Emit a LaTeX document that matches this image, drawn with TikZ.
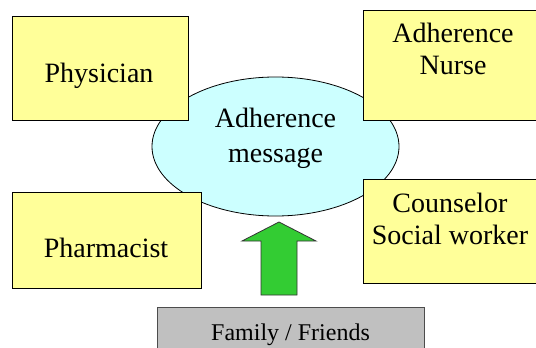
\documentclass[tikz,border=0pt]{standalone}
\usepackage{fontspec}
\setmainfont{Liberation Serif}
\newfontfamily\tnrfont{Liberation Serif}
\usetikzlibrary{shapes.geometric}
\definecolor{boxyellow}{HTML}{FFFF99}
\definecolor{msgcyan}{HTML}{CCFFFF}
\definecolor{famgray}{HTML}{C0C0C0}
\definecolor{arrowgreen}{HTML}{33CC33}
\begin{document}
\begin{tikzpicture}[x=1pt,y=-1pt,
  box/.style={draw=black, line width=0.8pt, fill=boxyellow, inner sep=0pt, anchor=north west},
  msgstyle/.style={ellipse, draw=black, line width=0.8pt, fill=msgcyan, inner sep=0pt},
  famstyle/.style={draw=black!70, line width=0.8pt, fill=famgray, inner sep=0pt, anchor=north west},
  lbl/.style={font=\tnrfont\fontsize{28}{32}\selectfont, align=center, inner sep=0pt, anchor=base},
  famlbl/.style={font=\tnrfont\fontsize{24}{28}\selectfont, inner sep=0pt, anchor=base},
  bigarrow/.style={draw=black!80, line width=0.8pt, fill=arrowgreen, line join=miter}
]
\useasboundingbox (0,0) rectangle (536,348);
\clip (0,0) rectangle (536,348);
% central ellipse
\node[msgstyle, minimum width=247pt, minimum height=139pt] (msg) at (275.5,146.5) {};
% boxes
\node[box, minimum width=176pt, minimum height=104pt] (phys) at (12,16) {};
\node[box, minimum width=180pt, minimum height=110pt] (nurse) at (363,10) {};
\node[box, minimum width=189pt, minimum height=96pt] (pharm) at (12,192) {};
\node[box, minimum width=178pt, minimum height=104pt] (couns) at (363,179) {};
\node[famstyle, minimum width=267pt, minimum height=60pt] (fam) at (157,307) {};
% labels (base anchor = baseline of the last line)
\node[lbl] (msgtxt) at (275.5,162) {Adherence\\[3pt]message};
\node[lbl] (phystxt) at (99,82) {Physician};
\node[lbl] (nursetxt) at (453,74) {Adherence\\Nurse};
\node[lbl] (pharmtxt) at (106,257) {Pharmacist};
\node[lbl] (counstxt) at (450,244) {Counselor\\Social worker};
\node[famlbl] (famtxt) at (290.5,340) {Family / Friends};
% block arrow from family to message
\coordinate (arrowtip) at (279,222);
\coordinate (arrowfoot) at (279,295);
\draw[bigarrow] (arrowtip) -- ++(37,19) -- ++(-19,0) |- (arrowfoot) -- ++(-18,0)
  -- ++(0,-54) -- ++(-19,0) -- cycle;
\end{tikzpicture}
\end{document}
